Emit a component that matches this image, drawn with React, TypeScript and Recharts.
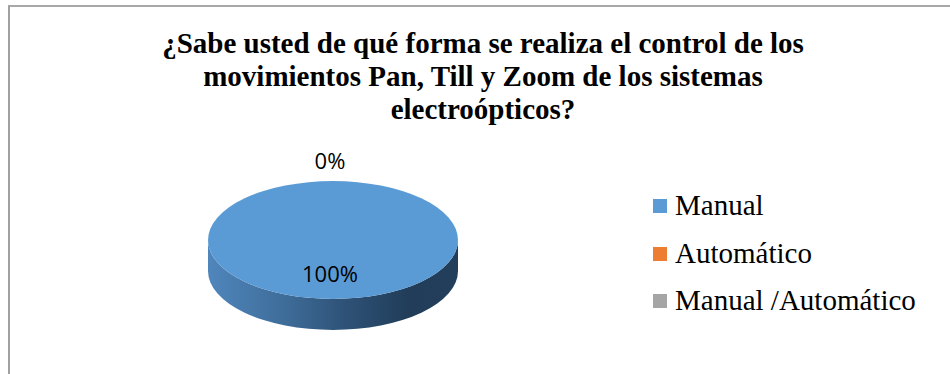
import React from 'react';
import { PieChart, Pie, Cell, Legend } from 'recharts';

const categories = ['Manual', 'Automático', 'Manual /Automático'];
const values = [100, 0, 0];
const colors = ['#5B9BD5', '#ED7D31', '#A5A5A5'];
const titleLines = [
  '¿Sabe usted de qué forma se realiza el control de los',
  'movimientos Pan, Till y Zoom de los sistemas',
  'electroópticos?',
];

const data = categories.map((name, i) => ({ name, value: values[i] }));

const TILT = 0.472;
const DEPTH = 0.248;
const RAD = Math.PI / 180;

const Slice3D = (props: any) => {
  const { cx, cy, outerRadius, startAngle, endAngle, fill, index } = props;
  const span = Math.abs(endAngle - startAngle);
  if (!span || span < 0.01) return <g />;
  const rx = outerRadius;
  const ry = outerRadius * TILT;
  const d = outerRadius * DEPTH;
  const gid = `side-grad-${index}`;
  const full = span >= 359.99;
  const pt = (a: number) => [cx + rx * Math.cos(a * RAD), cy - ry * Math.sin(a * RAD)];
  let top;
  if (full) {
    top = <ellipse cx={cx} cy={cy} rx={rx} ry={ry} fill={fill} />;
  } else {
    const [x1, y1] = pt(startAngle);
    const [x2, y2] = pt(endAngle);
    const large = span > 180 ? 1 : 0;
    const sweep = endAngle < startAngle ? 1 : 0;
    top = (
      <path
        d={`M${cx},${cy} L${x1},${y1} A${rx},${ry} 0 ${large} ${sweep} ${x2},${y2} Z`}
        fill={fill}
      />
    );
  }
  return (
    <g>
      <defs>
        <linearGradient id={gid} x1="0" y1="0" x2="1" y2="0">
          <stop offset="0%" stopColor="#4F86BC" />
          <stop offset="30%" stopColor="#3F6D9A" />
          <stop offset="55%" stopColor="#2E5277" />
          <stop offset="80%" stopColor="#213D59" />
          <stop offset="100%" stopColor="#223E5A" />
        </linearGradient>
      </defs>
      {full && (
        <path
          d={`M${cx - rx},${cy} L${cx - rx},${cy + d} A${rx},${ry} 0 0 0 ${cx + rx},${cy + d} L${cx + rx},${cy} A${rx},${ry} 0 0 1 ${cx - rx},${cy} Z`}
          fill={`url(#${gid})`}
        />
      )}
      {top}
    </g>
  );
};

const renderLabel = (props: any) => {
  const { cx, cy, midAngle, outerRadius, percent, index } = props;
  const p = percent || 0;
  if (p === 0 && index > 0 && values[index - 1] === 0) return null;
  const f = p > 0 ? 0.56 : 1.36;
  const x = cx + Math.cos(-midAngle * RAD) * outerRadius * f - 3;
  const y = cy + Math.sin(-midAngle * RAD) * outerRadius * TILT * f;
  return (
    <text
      x={x}
      y={y}
      textAnchor="middle"
      dominantBaseline="central"
      fill="#000"
      fontFamily="'Open Sans', sans-serif"
      fontSize={22}
    >
      {`${Math.round(p * 100)}%`}
    </text>
  );
};

const renderLegend = (props: any) => {
  const payload = props.payload && props.payload.length ? props.payload : [];
  const items = categories.map((name, i) => {
    const entry = payload.find((e: any) => e.value === name);
    return { name, color: entry && entry.color ? entry.color : colors[i] };
  });
  return (
    <div style={{ position: 'relative', width: 290 }}>
      {items.map((it) => (
        <div
          key={it.name}
          style={{
            position: 'relative',
            height: 47.5,
            lineHeight: '47.5px',
            fontFamily: "'Liberation Serif', 'Times New Roman', serif",
            fontSize: 29,
            color: '#000',
            whiteSpace: 'nowrap',
          }}
        >
          <span
            style={{
              position: 'absolute',
              left: 0,
              top: 17,
              width: 14,
              height: 14,
              background: it.color,
            }}
          />
          <span style={{ position: 'absolute', left: 22, top: 0 }}>{it.name}</span>
        </div>
      ))}
    </div>
  );
};

export default function App() {
  return (
    <div style={{ position: 'absolute', left: 0, top: 0, width: 950, height: 374, overflow: 'hidden', background: '#fff' }}>
      <div
        style={{
          position: 'absolute',
          left: 8,
          top: 5,
          width: 942,
          height: 369,
          borderTop: '2px solid #A8A8A8',
          borderLeft: '2px solid #A0A0A0',
          boxSizing: 'border-box',
        }}
      />
      <div style={{ position: 'absolute', left: 0, top: 0 }}>
        <PieChart width={950} height={374} margin={{ top: 0, right: 0, bottom: 0, left: 0 }}>
          <Pie
            data={data}
            dataKey="value"
            nameKey="name"
            cx={333}
            cy={240}
            outerRadius={125}
            startAngle={90}
            endAngle={-270}
            stroke="none"
            isAnimationActive={false}
            labelLine={false}
            label={renderLabel}
            shape={Slice3D}
            activeShape={Slice3D}
            inactiveShape={Slice3D}
          >
            {data.map((d, i) => (
              <Cell key={d.name} fill={colors[i]} />
            ))}
          </Pie>
          <Legend
            layout="vertical"
            align="right"
            verticalAlign="top"
            content={renderLegend}
            wrapperStyle={{ position: 'absolute', left: 653, top: 182, width: 290 }}
          />
        </PieChart>
      </div>
      <div
        style={{
          position: 'absolute',
          left: 8,
          top: 27,
          width: 950,
          textAlign: 'center',
          fontFamily: "'Liberation Serif', 'Times New Roman', serif",
          fontWeight: 'bold',
          fontSize: 29,
          lineHeight: '33px',
          color: '#000',
        }}
      >
        {titleLines.map((l) => (
          <div key={l}>{l}</div>
        ))}
      </div>
    </div>
  );
}
